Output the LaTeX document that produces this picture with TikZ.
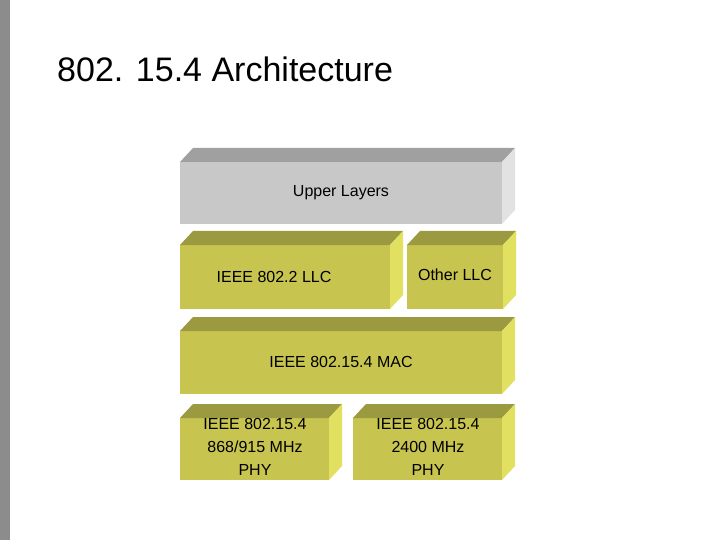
\documentclass[tikz,border=0pt]{standalone}
\usepackage{fontspec}
\setmainfont{Liberation Sans}
\begin{document}
\begin{tikzpicture}[x=1pt,y=-1pt,
  lbl/.style={font=\fontsize{16}{23}\selectfont,align=center}]
\definecolor{yfront}{HTML}{C8C450}\definecolor{ytop}{HTML}{9C9A40}\definecolor{yside}{HTML}{E2E060}
\definecolor{gfront}{HTML}{C8C8C8}\definecolor{gtop}{HTML}{A0A0A0}\definecolor{gside}{HTML}{E2E2E2}
\useasboundingbox (0,0) rectangle (720,540);
\fill[white] (0,0) rectangle (720,540);
\fill[gray!90] (0,0) rectangle (10,540);
\node[anchor=base west,inner sep=0pt,font=\fontsize{34}{40}\selectfont] (title) at (57,82) {802. 15.4 Architecture};
\newcommand{\blk}[7]{%
  \fill[#5] (#1,#2) rectangle (#3,#4);
  \fill[#6] (#1,#2) -- (#1+13,#2-14) -- (#3+13,#2-14) -- (#3,#2) -- cycle;
  \fill[#7] (#3,#2) -- (#3+13,#2-14) -- (#3+13,#4-14) -- (#3,#4) -- cycle;}
\blk{180}{162}{502}{224}{gfront}{gtop}{gside}{}
\blk{180}{245}{390}{309}{yfront}{ytop}{yside}{}
\blk{407}{245}{503}{309}{yfront}{ytop}{yside}{}
\blk{180}{331}{502}{394}{yfront}{ytop}{yside}{}
\blk{180}{418}{329}{480}{yfront}{ytop}{yside}{}
\blk{353}{418}{502}{480}{yfront}{ytop}{yside}{}
\node[lbl] (ul) at (341,193) {Upper Layers};
\node[lbl] (llc) at (274,277) {IEEE 802.2 LLC};
\node[lbl] (ollc) at (455,275) {Other LLC};
\node[lbl] (mac) at (341,362) {IEEE 802.15.4 MAC};
\node[lbl] (phy1) at (255,447) {IEEE 802.15.4\\868/915 MHz\\PHY};
\node[lbl] (phy2) at (428,447) {IEEE 802.15.4\\2400 MHz\\PHY};
\end{tikzpicture}
\end{document}
